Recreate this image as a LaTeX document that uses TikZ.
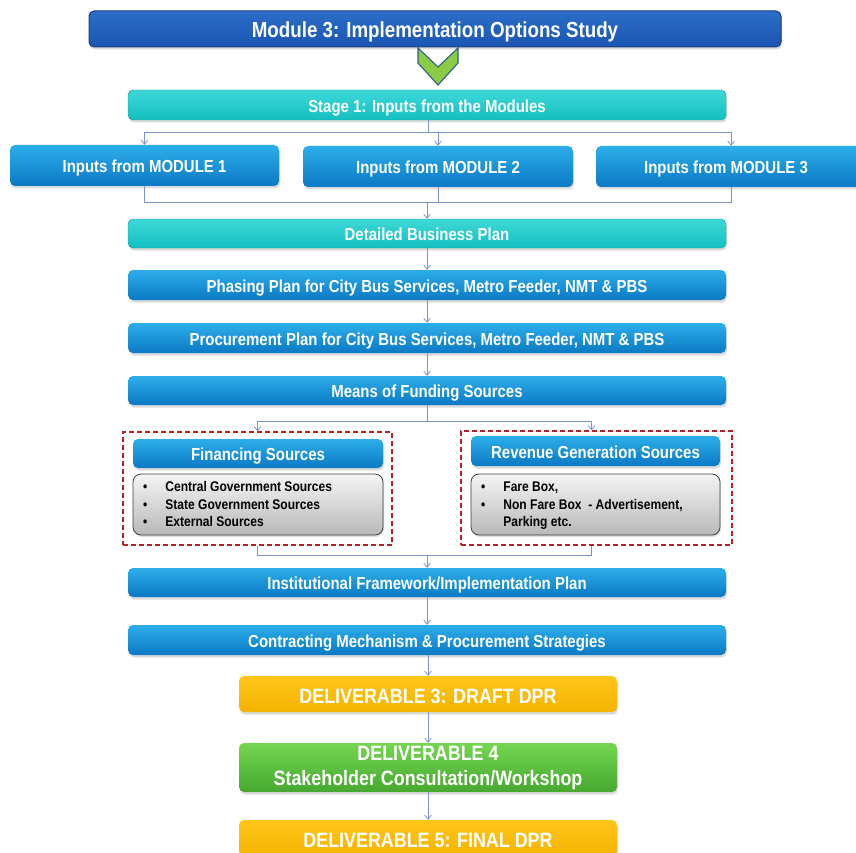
\documentclass[tikz,border=0pt]{standalone}
\usepackage{fontspec}
\setmainfont{Liberation Sans}[FakeStretch=0.86]
\usetikzlibrary{arrows.meta,shadows,positioning}

\definecolor{titletop}{HTML}{2B6DC8}
\definecolor{titlebot}{HTML}{1A56B2}
\definecolor{titleline}{HTML}{1B3E82}
\definecolor{bluetop}{HTML}{2CAEEA}
\definecolor{bluebot}{HTML}{0B79C4}
\definecolor{tealtop}{HTML}{3ED8D8}
\definecolor{tealbot}{HTML}{13BFC0}
\definecolor{orangetop}{HTML}{FFC61A}
\definecolor{orangebot}{HTML}{F5B300}
\definecolor{greentop}{HTML}{74D651}
\definecolor{greenbot}{HTML}{46A82F}
\definecolor{chevfill}{HTML}{8CCB44}
\definecolor{chevline}{HTML}{2D5E8C}
\definecolor{connline}{HTML}{7895CC}
\definecolor{frameline}{HTML}{B52227}

\tikzset{
  base/.style={rounded corners=5pt, inner sep=0pt, align=center,
    text=white, font=\bfseries\fontsize{17.4}{20}\selectfont,
    text height=14.5pt, text depth=0pt,
    drop shadow={opacity=0.28, shadow xshift=1pt, shadow yshift=-2.5pt}},
  titlebox/.style={base, top color=titletop, bottom color=titlebot,
    draw=titleline, line width=1pt, font=\bfseries\fontsize{21.8}{25}\selectfont,
    text height=17.6pt},
  bluebox/.style={base, top color=bluetop, bottom color=bluebot},
  tealbox/.style={base, top color=tealtop, bottom color=tealbot,
    draw=tealbot!80!black, line width=0.4pt},
  orangebox/.style={base, top color=orangetop, bottom color=orangebot,
    font=\bfseries\fontsize{20.8}{24}\selectfont, text height=18pt},
  greenbox/.style={rounded corners=5pt, inner sep=0pt, align=center,
    text=white, top color=greentop, bottom color=greenbot,
    font=\bfseries\fontsize{20.8}{25}\selectfont,
    drop shadow={opacity=0.28, shadow xshift=1pt, shadow yshift=-2.5pt}},
  listbox/.style={rounded corners=8pt, draw=black!75, line width=0.8pt,
    top color=white!96!black, bottom color=black!28, inner sep=0pt,
    drop shadow={opacity=0.25, shadow xshift=1pt, shadow yshift=-2pt}},
  listtext/.style={anchor=west, align=left, inner sep=0pt, text=black,
    font=\bfseries\fontsize{14}{17.5}\selectfont},
  frame/.style={draw=frameline, dashed, dash pattern=on 5pt off 3pt,
    line width=1.4pt, inner sep=0pt},
  conn/.style={draw=connline, line width=0.8pt},
  arr/.style={conn, -{Straight Barb[length=4pt,width=6.5pt,line width=0.8pt]}},
}

\begin{document}
\begin{tikzpicture}[x=1pt, y=-1pt]
\clip (0,0) rectangle (856,853);
\fill[white] (0,0) rectangle (856,853);

% heading and chevron
\node[titlebox, minimum width=692pt, minimum height=36pt] (title) at (435,29)
  {Module 3: Implementation Options Study};
\filldraw[fill=chevfill, draw=chevline, line width=1.1pt, line join=miter]
  (418,48) -- (438,67) -- (458,48) -- (458,63) -- (438,85) -- (418,63) -- cycle;

% stage 1 and module inputs
\node[tealbox, minimum width=598pt, minimum height=30pt] (stage) at (427,105)
  {Stage 1: Inputs from the Modules};
\node[bluebox, minimum width=269pt, minimum height=41pt] (m1) at (144.5,165.5)
  {Inputs from MODULE 1};
\node[bluebox, minimum width=270pt, minimum height=41pt] (m2) at (438,166.5)
  {Inputs from MODULE 2};
\node[bluebox, minimum width=268pt, minimum height=41pt] (m3) at (730,166.5)
  {\hspace*{-8pt}Inputs from MODULE 3};

% plan sequence
\node[tealbox, minimum width=598pt, minimum height=29pt] (dbp) at (427,233.5)
  {Detailed Business Plan};
\node[bluebox, minimum width=598pt, minimum height=30pt] (phase) at (427,285)
  {Phasing Plan for City Bus Services, Metro Feeder, NMT \& PBS};
\node[bluebox, minimum width=598pt, minimum height=30pt] (proc) at (427,338)
  {Procurement Plan for City Bus Services, Metro Feeder, NMT \& PBS};
\node[bluebox, minimum width=598pt, minimum height=29pt] (means) at (427,390.5)
  {Means of Funding Sources};

% funding source groups
\node[frame, minimum width=269pt, minimum height=113pt] (finframe) at (257.5,488.5) {};
\node[frame, minimum width=271pt, minimum height=114pt] (revframe) at (596.5,488) {};

\node[bluebox, minimum width=250pt, minimum height=29pt] (finhdr) at (258,453.5)
  {Financing Sources};
\node[listbox, minimum width=250pt, minimum height=61pt] (finlist) at (258,504.5) {};
\node[listtext] (fintext) at (143,505.5)
  {\begin{tabular}{@{}l@{\hspace{18pt}}l@{}}
   \textbullet & Central Government Sources\\
   \textbullet & State Government Sources\\
   \textbullet & External Sources
   \end{tabular}};

\node[bluebox, minimum width=249pt, minimum height=30pt] (revhdr) at (595.5,451)
  {Revenue Generation Sources};
\node[listbox, minimum width=249pt, minimum height=61pt] (revlist) at (595.5,504.5) {};
\node[listtext] (revtext) at (481,505.5)
  {\begin{tabular}{@{}l@{\hspace{18pt}}l@{}}
   \textbullet & Fare Box,\\
   \textbullet & Non Fare Box\ \ - Advertisement,\\
               & Parking etc.
   \end{tabular}};

% implementation steps
\node[bluebox, minimum width=598pt, minimum height=29pt] (inst) at (427,582.5)
  {Institutional Framework/Implementation Plan};
\node[bluebox, minimum width=598pt, minimum height=30pt] (contract) at (427,640)
  {Contracting Mechanism \& Procurement Strategies};

% deliverables
\node[orangebox, minimum width=378pt, minimum height=36pt] (d3) at (428,694)
  {DELIVERABLE 3: DRAFT DPR};
\node[greenbox, minimum width=378pt, minimum height=49pt] (d4) at (428,767.5)
  {DELIVERABLE 4\\Stakeholder Consultation/Workshop};
\node[orangebox, minimum width=378pt, minimum height=36pt] (d5) at (428,838)
  {DELIVERABLE 5: FINAL DPR};

% connectors
\coordinate (j1) at (428,132);
\draw[conn] (stage.south -| j1) -- (j1);
\draw[arr] (j1) -| (m1.north);
\draw[arr] (j1) -| (m2.north);
\draw[arr] (j1) -| ([xshift=1pt]m3.north);

\coordinate (j2) at (427,202);
\draw[conn] (m1.south) |- (j2);
\draw[conn] (m2.south) |- (j2);
\draw[conn] ([xshift=1pt]m3.south) |- (j2);
\draw[arr] (j2) -- (dbp.north);

\draw[arr] (dbp.south) -- (phase.north);
\draw[arr] (phase.south) -- (proc.north);
\draw[arr] (proc.south) -- (means.north);

\coordinate (j3) at (427,421);
\draw[conn] (means.south) -- (j3);
\draw[arr] (j3) -| (finframe.north);
\draw[arr] (j3) -| ([xshift=-5pt]revframe.north);

\coordinate (j4) at (427,555);
\draw[conn] (finframe.south) |- (j4);
\draw[conn] ([xshift=-5pt]revframe.south) |- (j4);
\draw[arr] (j4) -- (inst.north);

\draw[arr] (inst.south) -- (contract.north);
\draw[arr] ([xshift=1pt]contract.south) -- ([xshift=1pt]d3.north -| contract.south);
\draw[arr] (d3.south) -- (d4.north);
\draw[arr] (d4.south) -- (d5.north);
\end{tikzpicture}
\end{document}
